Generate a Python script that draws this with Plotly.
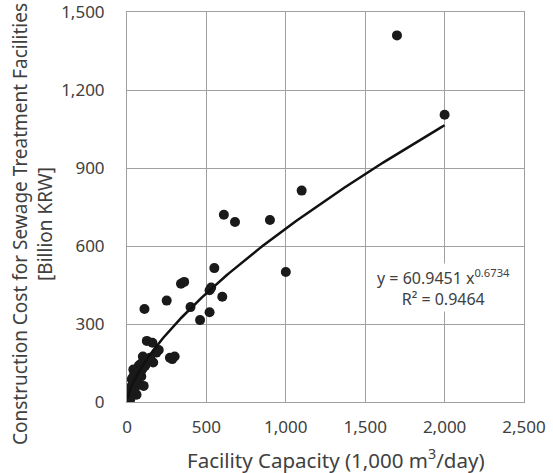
import numpy as np
import plotly.graph_objects as go

# Facility capacity (1,000 m3/day) and construction cost (billion KRW)
capacity = [1700, 2000, 1100, 900, 610, 680, 550, 1000, 340, 360, 530, 520, 600,
            250, 400, 110, 520, 460, 125, 160, 200, 185, 270, 285, 300, 100, 165,
            80, 40, 90, 30, 105, 60, 5,
            10, 15, 20, 25, 12, 18, 22, 30, 35, 28, 40, 45, 50, 55, 38, 60, 65, 70,
            75, 50, 45, 58, 85, 90, 80, 70, 65, 55, 48, 40, 20, 8, 3, 15, 25, 32,
            42, 62, 75, 95, 100, 115, 130, 145]
cost = [1410, 1105, 813, 700, 720, 692, 515, 500, 455, 462, 440, 430, 405,
        390, 365, 358, 345, 315, 235, 228, 200, 190, 170, 165, 175, 175, 152,
        138, 125, 98, 88, 62, 28, 8,
        15, 25, 35, 45, 20, 30, 40, 50, 55, 60, 70, 80, 90, 100, 95, 110, 120, 130,
        140, 115, 105, 125, 145, 120, 110, 85, 70, 60, 40, 30, 10, 5, 3, 8, 20, 38,
        52, 78, 95, 150, 130, 140, 155, 170]

x_ticks = [0, 500, 1000, 1500, 2000, 2500]
y_ticks = [0, 300, 600, 900, 1200, 1500]

# trendline as drawn (power curve)
TREND_A = 6.37
TREND_B = 0.6734
trend_x = np.linspace(3, 2000, 300)
trend_y = TREND_A * trend_x ** TREND_B

FONT = "Noto Sans"
TXT = "#404040"
GRID = "#a0a0a0"

W, H = 553, 473
ML, MR, MT, MB = 127, 29, 12, 71
PW, PH = W - ML - MR, H - MT - MB


def px_x(p):
    return (p - ML) / PW


def px_y(p):
    return (H - MB - p) / PH


fig = go.Figure()
fig.add_trace(go.Scatter(x=capacity, y=cost, mode="markers",
                         marker=dict(size=10, color="#1a1a1a"),
                         showlegend=False))
fig.add_trace(go.Scatter(x=trend_x, y=trend_y, mode="lines",
                         line=dict(color="#111111", width=2.5),
                         showlegend=False))

fig.add_annotation(x=1990, y=440, xref="x", yref="y",
                   text="y = 60.9451 x<sup>0.6734</sup><br>R² = 0.9464",
                   showarrow=False, font=dict(family=FONT, size=16, color=TXT),
                   align="center", bgcolor="white",
                   xanchor="center", yanchor="middle")

# axis titles
fig.add_annotation(x=px_x(32), y=px_y(224), xref="paper", yref="paper",
                   text="Construction Cost for Sewage Treatment Facilities<br>[Billion KRW]",
                   textangle=-90, showarrow=False,
                   xanchor="center", yanchor="middle",
                   font=dict(family=FONT, size=19, color=TXT))
fig.add_annotation(x=px_x(336), y=px_y(459), xref="paper", yref="paper",
                   text="Facility Capacity (1,000 m<sup>3</sup>/day)",
                   showarrow=False,
                   xanchor="center", yanchor="middle",
                   font=dict(family=FONT, size=20.5, color=TXT))

axis_common = dict(showgrid=True, gridcolor=GRID, gridwidth=1,
                   showline=True, linecolor=GRID, linewidth=1, mirror=True,
                   zeroline=False, ticks="", tickformat=",", automargin=False,
                   ticklabeloverflow="allow",
                   tickfont=dict(family=FONT, size=17, color=TXT))

fig.update_xaxes(range=[0, 2500], tickvals=x_ticks,
                 ticklabelstandoff=10, **axis_common)
fig.update_yaxes(range=[0, 1500], tickvals=y_ticks,
                 ticklabelstandoff=18, **axis_common)

fig.update_layout(width=W, height=H,
                  margin=dict(l=ML, r=MR, t=MT, b=MB),
                  plot_bgcolor="white", paper_bgcolor="white",
                  font=dict(family=FONT, color=TXT))

fig.write_html("out.html", config={"displayModeBar": False},
               post_script="document.body.style.margin='0';document.body.style.padding='0';")
